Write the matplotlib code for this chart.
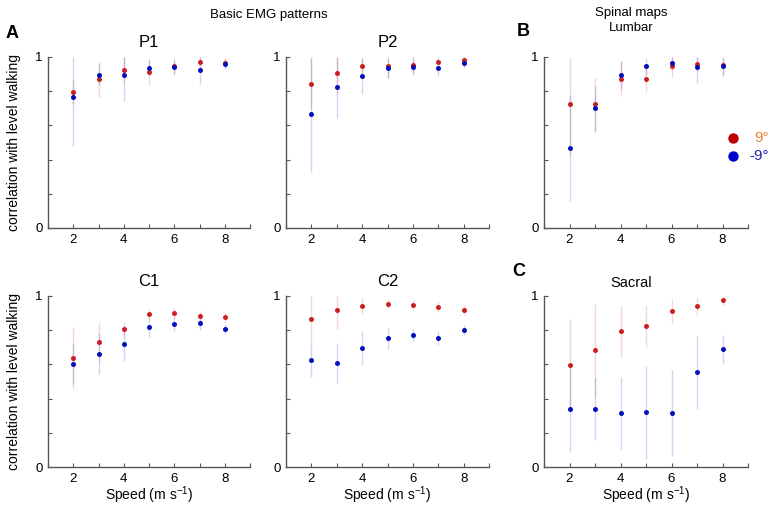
import numpy as np
import matplotlib
matplotlib.use("Agg")
import matplotlib.pyplot as plt

plt.rcParams['font.family'] = ['Liberation Sans', 'DejaVu Sans']

# speeds (m/s)
speeds = [2, 3, 4, 5, 6, 7, 8]

# panel names
panels = ['P1', 'P2', 'Lumbar', 'C1', 'C2', 'Sacral']

# mean correlation, +9 deg (red) and -9 deg (blue)
red_mean = {
    'P1':     [0.794, 0.870, 0.926, 0.914, 0.947, 0.969, 0.967],
    'P2':     [0.845, 0.909, 0.946, 0.946, 0.956, 0.969, 0.981],
    'Lumbar': [0.724, 0.724, 0.872, 0.874, 0.946, 0.961, 0.955],
    'C1':     [0.638, 0.732, 0.807, 0.893, 0.901, 0.883, 0.877],
    'C2':     [0.867, 0.916, 0.943, 0.953, 0.949, 0.938, 0.916],
    'Sacral': [0.597, 0.685, 0.794, 0.823, 0.914, 0.940, 0.975],
}
blue_mean = {
    'P1':     [0.768, 0.897, 0.893, 0.936, 0.940, 0.926, 0.957],
    'P2':     [0.667, 0.822, 0.886, 0.936, 0.944, 0.938, 0.967],
    'Lumbar': [0.465, 0.700, 0.895, 0.946, 0.963, 0.942, 0.947],
    'C1':     [0.605, 0.661, 0.722, 0.819, 0.835, 0.840, 0.805],
    'C2':     [0.628, 0.608, 0.696, 0.752, 0.770, 0.756, 0.801],
    'Sacral': [0.340, 0.339, 0.313, 0.319, 0.317, 0.553, 0.691],
}
# standard deviations (error bars)
red_sd = {
    'P1':     [0.07, 0.105, 0.08, 0.075, 0.05, 0.04, 0.03],
    'P2':     [0.15, 0.12, 0.07, 0.07, 0.05, 0.04, 0.02],
    'Lumbar': [0.30, 0.16, 0.10, 0.08, 0.065, 0.04, 0.065],
    'C1':     [0.18, 0.11, 0.04, 0.03, 0.03, 0.03, 0.03],
    'C2':     [0.14, 0.11, 0.05, 0.03, 0.03, 0.03, 0.03],
    'Sacral': [0.27, 0.27, 0.15, 0.12, 0.07, 0.05, 0.03],
}
blue_sd = {
    'P1':     [0.29, 0.06, 0.15, 0.05, 0.04, 0.085, 0.03],
    'P2':     [0.34, 0.18, 0.10, 0.06, 0.05, 0.05, 0.03],
    'Lumbar': [0.31, 0.13, 0.08, 0.05, 0.04, 0.094, 0.05],
    'C1':     [0.12, 0.12, 0.10, 0.06, 0.04, 0.04, 0.03],
    'C2':     [0.10, 0.115, 0.10, 0.06, 0.035, 0.04, 0.03],
    'Sacral': [0.25, 0.18, 0.215, 0.27, 0.25, 0.215, 0.08],
}

RED = '#cc1f1f'
BLUE = '#0010c0'
W, H = 770, 505

fig = plt.figure(figsize=(7.7, 5.05), dpi=100)

# axes boxes in pixels: left, right, top, bottom
cols = [(48, 250), (286, 489), (544, 748)]
rows = [(57, 228), (296, 467)]

for i, name in enumerate(panels):
    r, c = divmod(i, 3)
    x0, x1 = cols[c]
    y0, y1 = rows[r]
    ax = fig.add_axes([x0 / W, 1 - y1 / H, (x1 - x0) / W, (y1 - y0) / H])

    # faint error bars first, blue under red
    for mean, sd, col in [(blue_mean, blue_sd, BLUE), (red_mean, red_sd, RED)]:
        m = np.array(mean[name])
        s = np.array(sd[name])
        lo = np.clip(m - s, 0, 1)
        hi = np.clip(m + s, 0, 1)
        ax.vlines(speeds, lo, hi, color=col, alpha=0.18, lw=1.0)
    for mean, col in [(red_mean, RED), (blue_mean, BLUE)]:
        ax.plot(speeds, mean[name], 'o', color=col, ms=3.6, mec='none')

    ax.set_xlim(1, 9)
    ax.set_ylim(0, 1)
    ax.set_xticks(range(1, 10))
    ax.set_xticklabels(['' if k % 2 else str(k) for k in range(1, 10)])
    ax.set_yticks(np.arange(0, 1.01, 0.2))
    ax.set_yticklabels(['0', '', '', '', '', '1'])
    ax.tick_params(direction='in', length=3, width=0.8, colors='#555555',
                   labelcolor='black', labelsize=9.5, pad=4)
    for sp in ['top', 'right']:
        ax.spines[sp].set_visible(False)
    for sp in ['left', 'bottom']:
        ax.spines[sp].set_color('#555555')
        ax.spines[sp].set_linewidth(1.0)

    if name in ['P1', 'P2', 'C1', 'C2']:
        ax.set_title(name, fontsize=12, pad=7)
    if c == 0:
        ax.set_ylabel('correlation with level walking', fontsize=10, labelpad=10)
    if r == 1:
        ax.set_xlabel('Speed (m s$^{\\mathregular{-1}}$)', fontsize=10, labelpad=0)

# headers
fig.text(269 / W, 1 - 15 / H, 'Basic EMG patterns', ha='center', va='center', fontsize=9.5)
fig.text(631 / W, 1 - 13 / H, 'Spinal maps', ha='center', va='center', fontsize=9.5)
fig.text(631 / W, 1 - 28 / H, 'Lumbar', ha='center', va='center', fontsize=9.5)
fig.text(631 / W, 1 - 283 / H, 'Sacral', ha='center', va='center', fontsize=10.5)

# panel letters
fig.text(12 / W, 1 - 33 / H, 'A', ha='center', va='center', fontsize=13, fontweight='bold')
fig.text(523 / W, 1 - 31 / H, 'B', ha='center', va='center', fontsize=13, fontweight='bold')
fig.text(519 / W, 1 - 272 / H, 'C', ha='center', va='center', fontsize=13, fontweight='bold')

# legend
fig.lines.append(plt.Line2D([733 / W], [1 - 138 / H], marker='o', ms=7.5, color='#c00000',
                            mec='none', transform=fig.transFigure))
fig.lines.append(plt.Line2D([733 / W], [1 - 156 / H], marker='o', ms=7.5, color='#0000c8',
                            mec='none', transform=fig.transFigure))
fig.text(769 / W, 1 - 138 / H, '9°', ha='right', va='center', fontsize=11, color='#f08030')
fig.text(769 / W, 1 - 156 / H, '-9°', ha='right', va='center', fontsize=11, color='#2020c0')

fig.savefig('out.png', dpi=100)
